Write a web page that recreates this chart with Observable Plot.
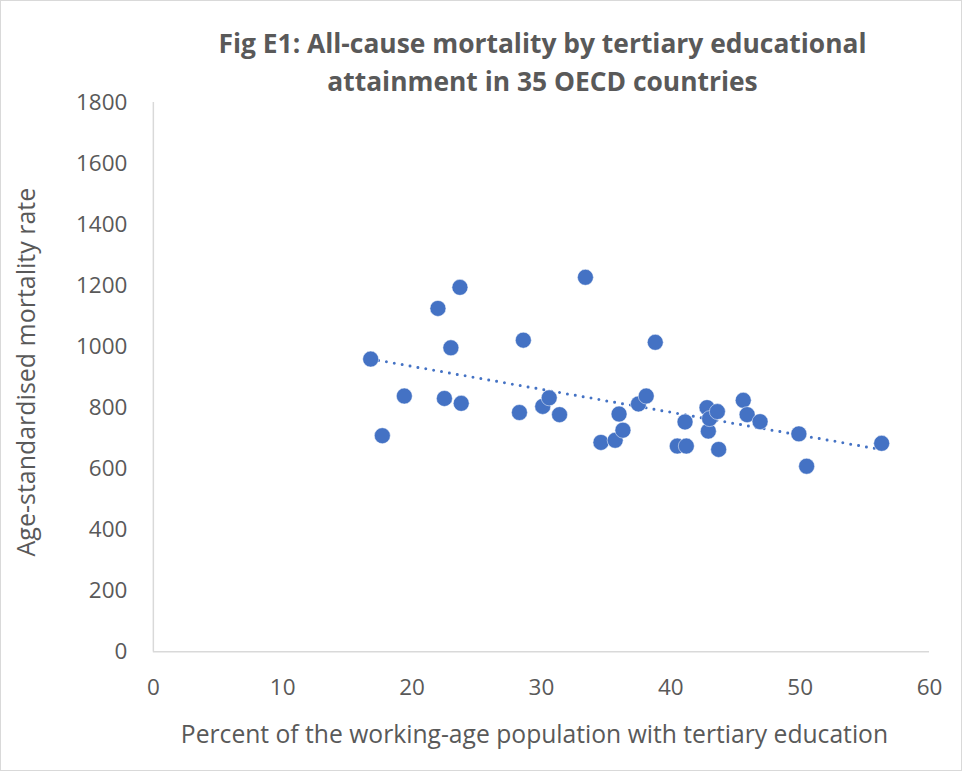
<!DOCTYPE html>
<html>
<head>
<meta charset="utf-8">
<script src="https://cdn.jsdelivr.net/npm/d3@7"></script>
<script src="https://cdn.jsdelivr.net/npm/@observablehq/plot@0.6"></script>
<style>
  html, body { margin: 0; padding: 0; background: #fff; }
  #wrap { position: relative; width: 962px; height: 771px; box-sizing: border-box; border: 1px solid #d9d9d9; overflow: hidden; font-family: "Open Sans", sans-serif; }
  #title { position: absolute; left: 153px; width: 777px; top: 23px; text-align: center; font-weight: bold; font-size: 26.4px; line-height: 38px; color: #595959; white-space: nowrap; }
  #chart { position: absolute; left: -1px; top: -1px; }
</style>
</head>
<body>
<div id="wrap">
  <div id="title">Fig E1: All-cause mortality by tertiary educational<br>attainment in 35 OECD countries</div>
  <div id="chart"></div>
</div>
<script>
const titleText = "Fig E1: All-cause mortality by tertiary educational attainment in 35 OECD countries";
const xLabel = "Percent of the working-age population with tertiary education";
const yLabel = "Age-standardised mortality rate";
const xTicks = [0, 10, 20, 30, 40, 50, 60];
const yTicks = [0, 200, 400, 600, 800, 1000, 1200, 1400, 1600, 1800];

const tertiaryPct = [16.8, 17.7, 19.4, 22.0, 22.5, 23.0, 23.7, 23.8, 28.3, 28.6,
  30.1, 30.6, 31.4, 33.4, 34.6, 35.7, 36.0, 36.3, 37.5, 38.1,
  38.8, 40.5, 41.2, 41.1, 42.8, 42.9, 43.0, 43.6, 43.7, 45.6,
  45.9, 46.9, 49.9, 50.5, 56.3];
const mortality = [959, 708, 838, 1125, 830, 996, 1194, 814, 784, 1021,
  804, 832, 777, 1227, 686, 693, 779, 726, 812, 838,
  1014, 674, 674, 753, 800, 723, 764, 787, 663, 824,
  777, 754, 714, 608, 683];

const data = tertiaryPct.map((x, i) => ({x, y: mortality[i]}));

const W = 962, H = 771;
const chart = Plot.plot({
  width: W,
  height: H,
  marginTop: 102,
  marginBottom: 119,
  marginLeft: 153,
  marginRight: 32,
  style: { fontFamily: "Open Sans, sans-serif", fontSize: "22.5px", color: "#595959", background: "transparent", overflow: "visible" },
  x: { domain: [0, 60], ticks: xTicks, tickSize: 0, tickPadding: 27, tickFormat: d => String(d), label: null },
  y: { domain: [0, 1800], ticks: yTicks, tickSize: 0, tickPadding: 26, tickFormat: d => String(d), label: null },
  marks: [
    Plot.ruleX([0], { stroke: "#d9d9d9", strokeWidth: 1.5 }),
    Plot.ruleY([0], { stroke: "#d9d9d9", strokeWidth: 1.5 }),
    Plot.linearRegressionY(data, { x: "x", y: "y", ci: 0, stroke: "#4472C4", strokeWidth: 3, strokeDasharray: "0,8", strokeLinecap: "round" }),
    Plot.dot(data, { x: "x", y: "y", r: 8, fill: "#4472C4", stroke: "#fff", strokeWidth: 0.5 }),
    Plot.text([yLabel], { frameAnchor: "left", dx: -126, dy: -5, rotate: -90, textAnchor: "middle", lineAnchor: "middle", fontSize: 25, fill: "#595959" }),
    Plot.text([xLabel], { frameAnchor: "bottom", dx: -7, dy: 83, textAnchor: "middle", lineAnchor: "middle", fontSize: 24.7, fill: "#595959" })
  ]
});
document.getElementById("chart").appendChild(chart);
</script>
</body>
</html>
